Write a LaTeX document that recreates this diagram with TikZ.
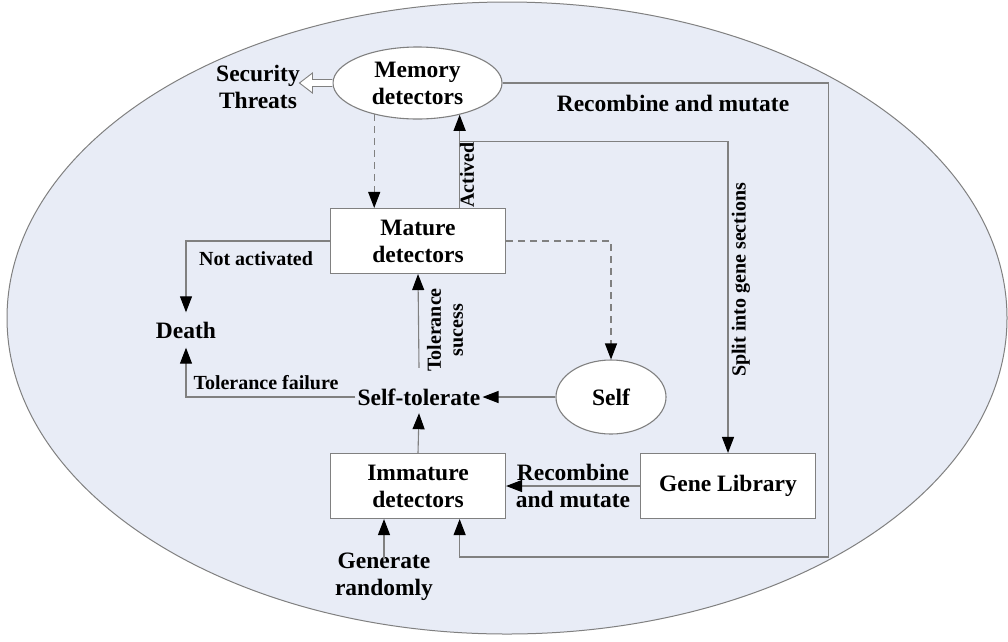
\documentclass[tikz,border=0pt]{standalone}
\usepackage{fontspec}
\setmainfont{Liberation Serif}
\usetikzlibrary{arrows.meta,shapes.geometric,calc}
\definecolor{linegray}{RGB}{128,128,128}
\definecolor{bgblue}{RGB}{232,236,246}
\begin{document}
\begin{tikzpicture}[x=1pt,y=-1pt,
  line/.style={draw=linegray, line width=1.1pt},
  arr/.style={line, -{Triangle[length=16pt,width=12pt,color=black]}},
  dashline/.style={arr, dash pattern=on 7pt off 5pt},
  big/.style={font=\fontsize{23.5}{27}\selectfont\bfseries, align=center},
  small/.style={font=\fontsize{20}{22}\selectfont\bfseries, align=center},
  box/.style={draw=linegray, fill=white, line width=1.1pt, minimum width=175pt,
    minimum height=65pt, inner sep=0pt, big},
  oval/.style={ellipse, draw=linegray, fill=white, line width=1.1pt, inner sep=0pt, big},
]
\useasboundingbox (0,0) rectangle (1008,641);
\fill[white] (0,0) rectangle (1008,641);

% enclosing region
\draw[draw=linegray, fill=bgblue, line width=1pt] (507,318) ellipse [x radius=500, y radius=316];

% main nodes
\node[oval, minimum width=169pt, minimum height=72pt] (mem) at (417.5,83) {Memory\\detectors};
\node[box] (mature) at (418,241) {Mature\\detectors};
\node[box] (immature) at (418,486) {Immature\\detectors};
\node[box] (gene) at (728,486) {Gene Library};
\node[oval, minimum width=110pt, minimum height=74pt] (self) at (611,397) {Self};
\node[big, inner sep=2pt, text height=16pt, text depth=0pt] (st) at (419,397) {Self-tolerate};
\node[big, inner sep=0pt, minimum height=35pt] (death) at (186,330) {Death};
\node[big, inner sep=0pt] (gen) at (384,577) {Generate\\randomly};
\node[big] (sec) at (258,86.5) {Security\\Threats};

% hollow arrow towards the threats
\path[draw=linegray, fill=white, line width=0.9pt]
  (mem.west) ++(0,-3.5) -- ++(-20,0) -- ++(0,-6.5) -- ++(-13,10) -- ++(13,10)
  -- ++(0,-6.5) -- ++(20,0);

% memory <-> mature
\draw[dashline] (mem.-144) -- (mem.-144 |- mature.north);
\draw[arr] (mature.north -| mem.-37) -- (mem.-37);
\node[small, rotate=90] (actlbl) at (467,175) {Actived};

% split into gene sections
\path (mem.-37) ++(0,27) coordinate (split);
\draw[arr] (split) -| (gene.north);
\node[small, rotate=90] (splitlbl) at (741,280) {Split into gene sections};

% memory -> recombine -> immature
\draw[arr] (mem.east) -- ++(326,0) -- ++(0,474) -| (immature.south -| mem.-37);
\node[big] (reclbl) at (673,103) {Recombine and mutate};

% mature -> self (dashed)
\draw[dashline] (mature.east) -| (self.north);

% self -> self-tolerate
\draw[arr] (self.west) -- (st.east);

% death branches
\draw[arr] (mature.west) -| (death.north);
\node[small] (notlbl) at (256,259) {Not activated};
\draw[arr] (st.west) -| (death.south);
\node[small] (faillbl) at (266,383) {Tolerance failure};

% tolerance success
\draw[arr] ([yshift=19pt]st.north) -- (mature.south);
\node[small, rotate=90] (suclbl) at (445,330) {Tolerance\\sucess};

% immature -> self-tolerate
\draw[arr] (immature.north) -- ([yshift=-6pt]st.south);

% gene library -> immature
\draw[arr] (gene.west) -- (immature.east)
  node[midway, big] (genelbl) {Recombine\\and mutate};

% random generation
\draw[arr] ([yshift=-6pt]gen.north) -- (gen.north |- immature.south);
\end{tikzpicture}
\end{document}
